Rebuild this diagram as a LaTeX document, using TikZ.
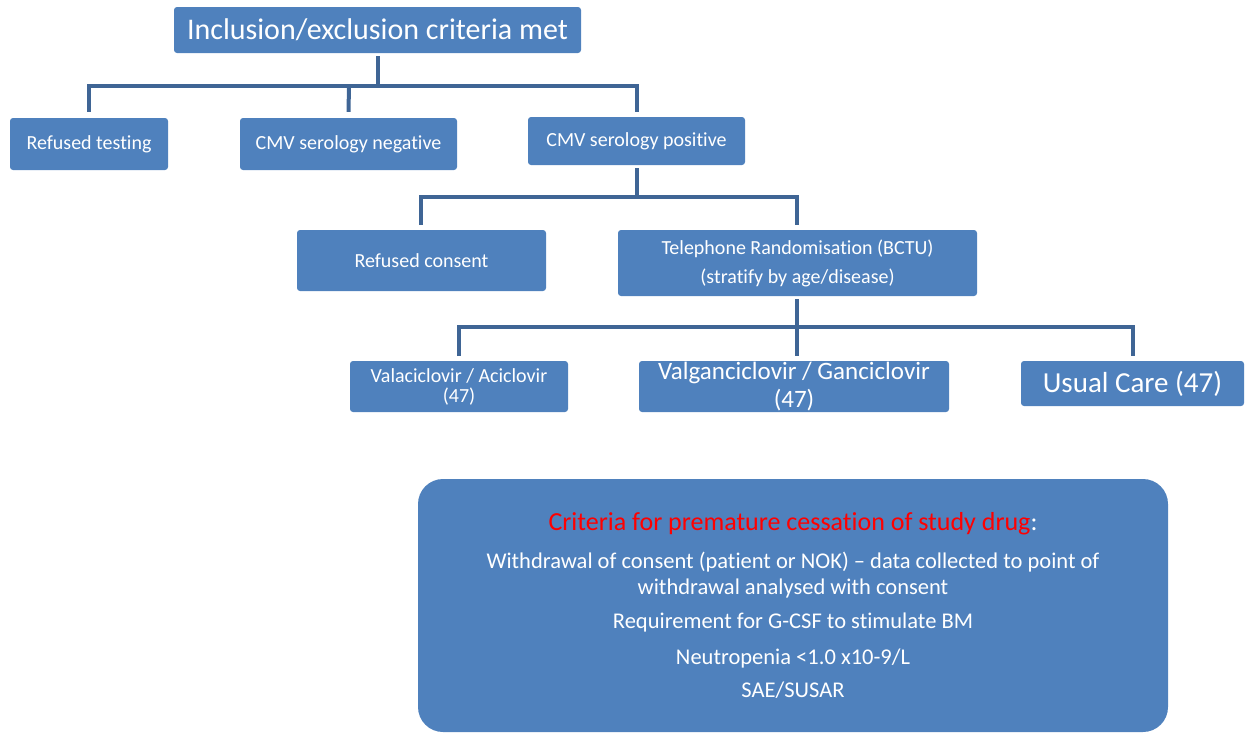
\documentclass[tikz,border=0pt]{standalone}
\usepackage{fontspec}
\setmainfont{Carlito}[Ligatures={TeX,NoCommon}]
\definecolor{boxblue}{HTML}{4F81BD}
\definecolor{lineblue}{HTML}{3F6595}
\definecolor{critred}{HTML}{FF0000}
\tikzset{
  bx/.style={rectangle, fill=boxblue, rounded corners=3pt, inner sep=0pt, text=white, align=center},
  conn/.style={draw=lineblue, line width=4pt, line join=miter},
  txt/.style={inner sep=0pt, text=white, align=center}
}
\newcommand{\fs}[2]{\fontsize{#1}{#2}\selectfont}
\begin{document}
\begin{tikzpicture}[x=1pt,y=-1pt]
\useasboundingbox (0,0) rectangle (1249,732);
% boxes
\node[bx, minimum width=407, minimum height=46, font=\fs{30}{34}] (top) at (377.5,30) {Inclusion/exclusion criteria met};
\node[bx, minimum width=158, minimum height=52, font=\fs{20}{24}] (rt) at (89,144) {Refused testing};
\node[bx, minimum width=217, minimum height=52, font=\fs{20}{24}] (neg) at (348.5,144) {CMV serology negative};
\node[bx, minimum width=217, minimum height=48, font=\fs{20}{24}] (pos) at (636.5,141) {CMV serology positive};
\node[bx, minimum width=249, minimum height=61, font=\fs{20}{24}] (rc) at (421.5,260.5) {Refused consent};
\node[bx, minimum width=359, minimum height=66, font=\fs{20}{29}] (tel) at (797.5,263) {Telephone Randomisation (BCTU)\\(stratify by age/disease)};
\node[bx, minimum width=218, minimum height=51, font=\fs{20}{20}] (val) at (459,386.5) {Valaciclovir / Aciclovir\\(47)};
\node[bx, minimum width=310, minimum height=51, font=\fs{25}{28}] (valg) at (794,386.5) {Valganciclovir / Ganciclovir\\(47)};
\node[bx, minimum width=223, minimum height=45, font=\fs{29}{32}] (uc) at (1132.5,383.5) {Usual Care (47)};
\node[bx, rounded corners=25pt, minimum width=750, minimum height=253] (crit) at (793,605.5) {};
% criteria text
\node[txt, font=\fs{26}{30}] (ct) at (793,524) {\textcolor{critred}{Criteria for premature cessation of study drug}:};
\node[txt, font=\fs{22.5}{26}] (c1) at (793,575) {Withdrawal of consent (patient or NOK) – data collected to point of\\withdrawal analysed with consent};
\node[txt, font=\fs{22.5}{26}] (c2) at (793,622) {Requirement for G-CSF to stimulate BM};
\node[txt, font=\fs{22.5}{26}] (c3) at (793,658) {Neutropenia <1.0 x10-9/L};
\node[txt, font=\fs{22.5}{26}] (c4) at (793,690) {SAE/SUSAR};
% connectors
\coordinate (h1) at (378,86);
\draw[conn] ([yshift=-3pt]top.south -| h1) -- (h1);
\draw[conn] ([yshift=6pt]rt.north) -- (89,86) -- (637,86) -- (637,112);
\draw[conn] (349,86) -- ([yshift=6pt]neg.north);
\coordinate (h2) at (637,197);
\draw[conn] ([yshift=-3pt]pos.south -| h2) -- (h2);
\draw[conn] (421,225) -- (421,197) -- (797,197) -- (797,225);
\coordinate (h3) at (797,327);
\draw[conn] ([yshift=-3pt]tel.south -| h3) -- (h3);
\draw[conn] (459,356) -- (459,327) -- (1133,327) -- (1133,356);
\draw[conn] (797,327) -- ([yshift=5pt]valg.north -| h3);
\end{tikzpicture}
\end{document}
